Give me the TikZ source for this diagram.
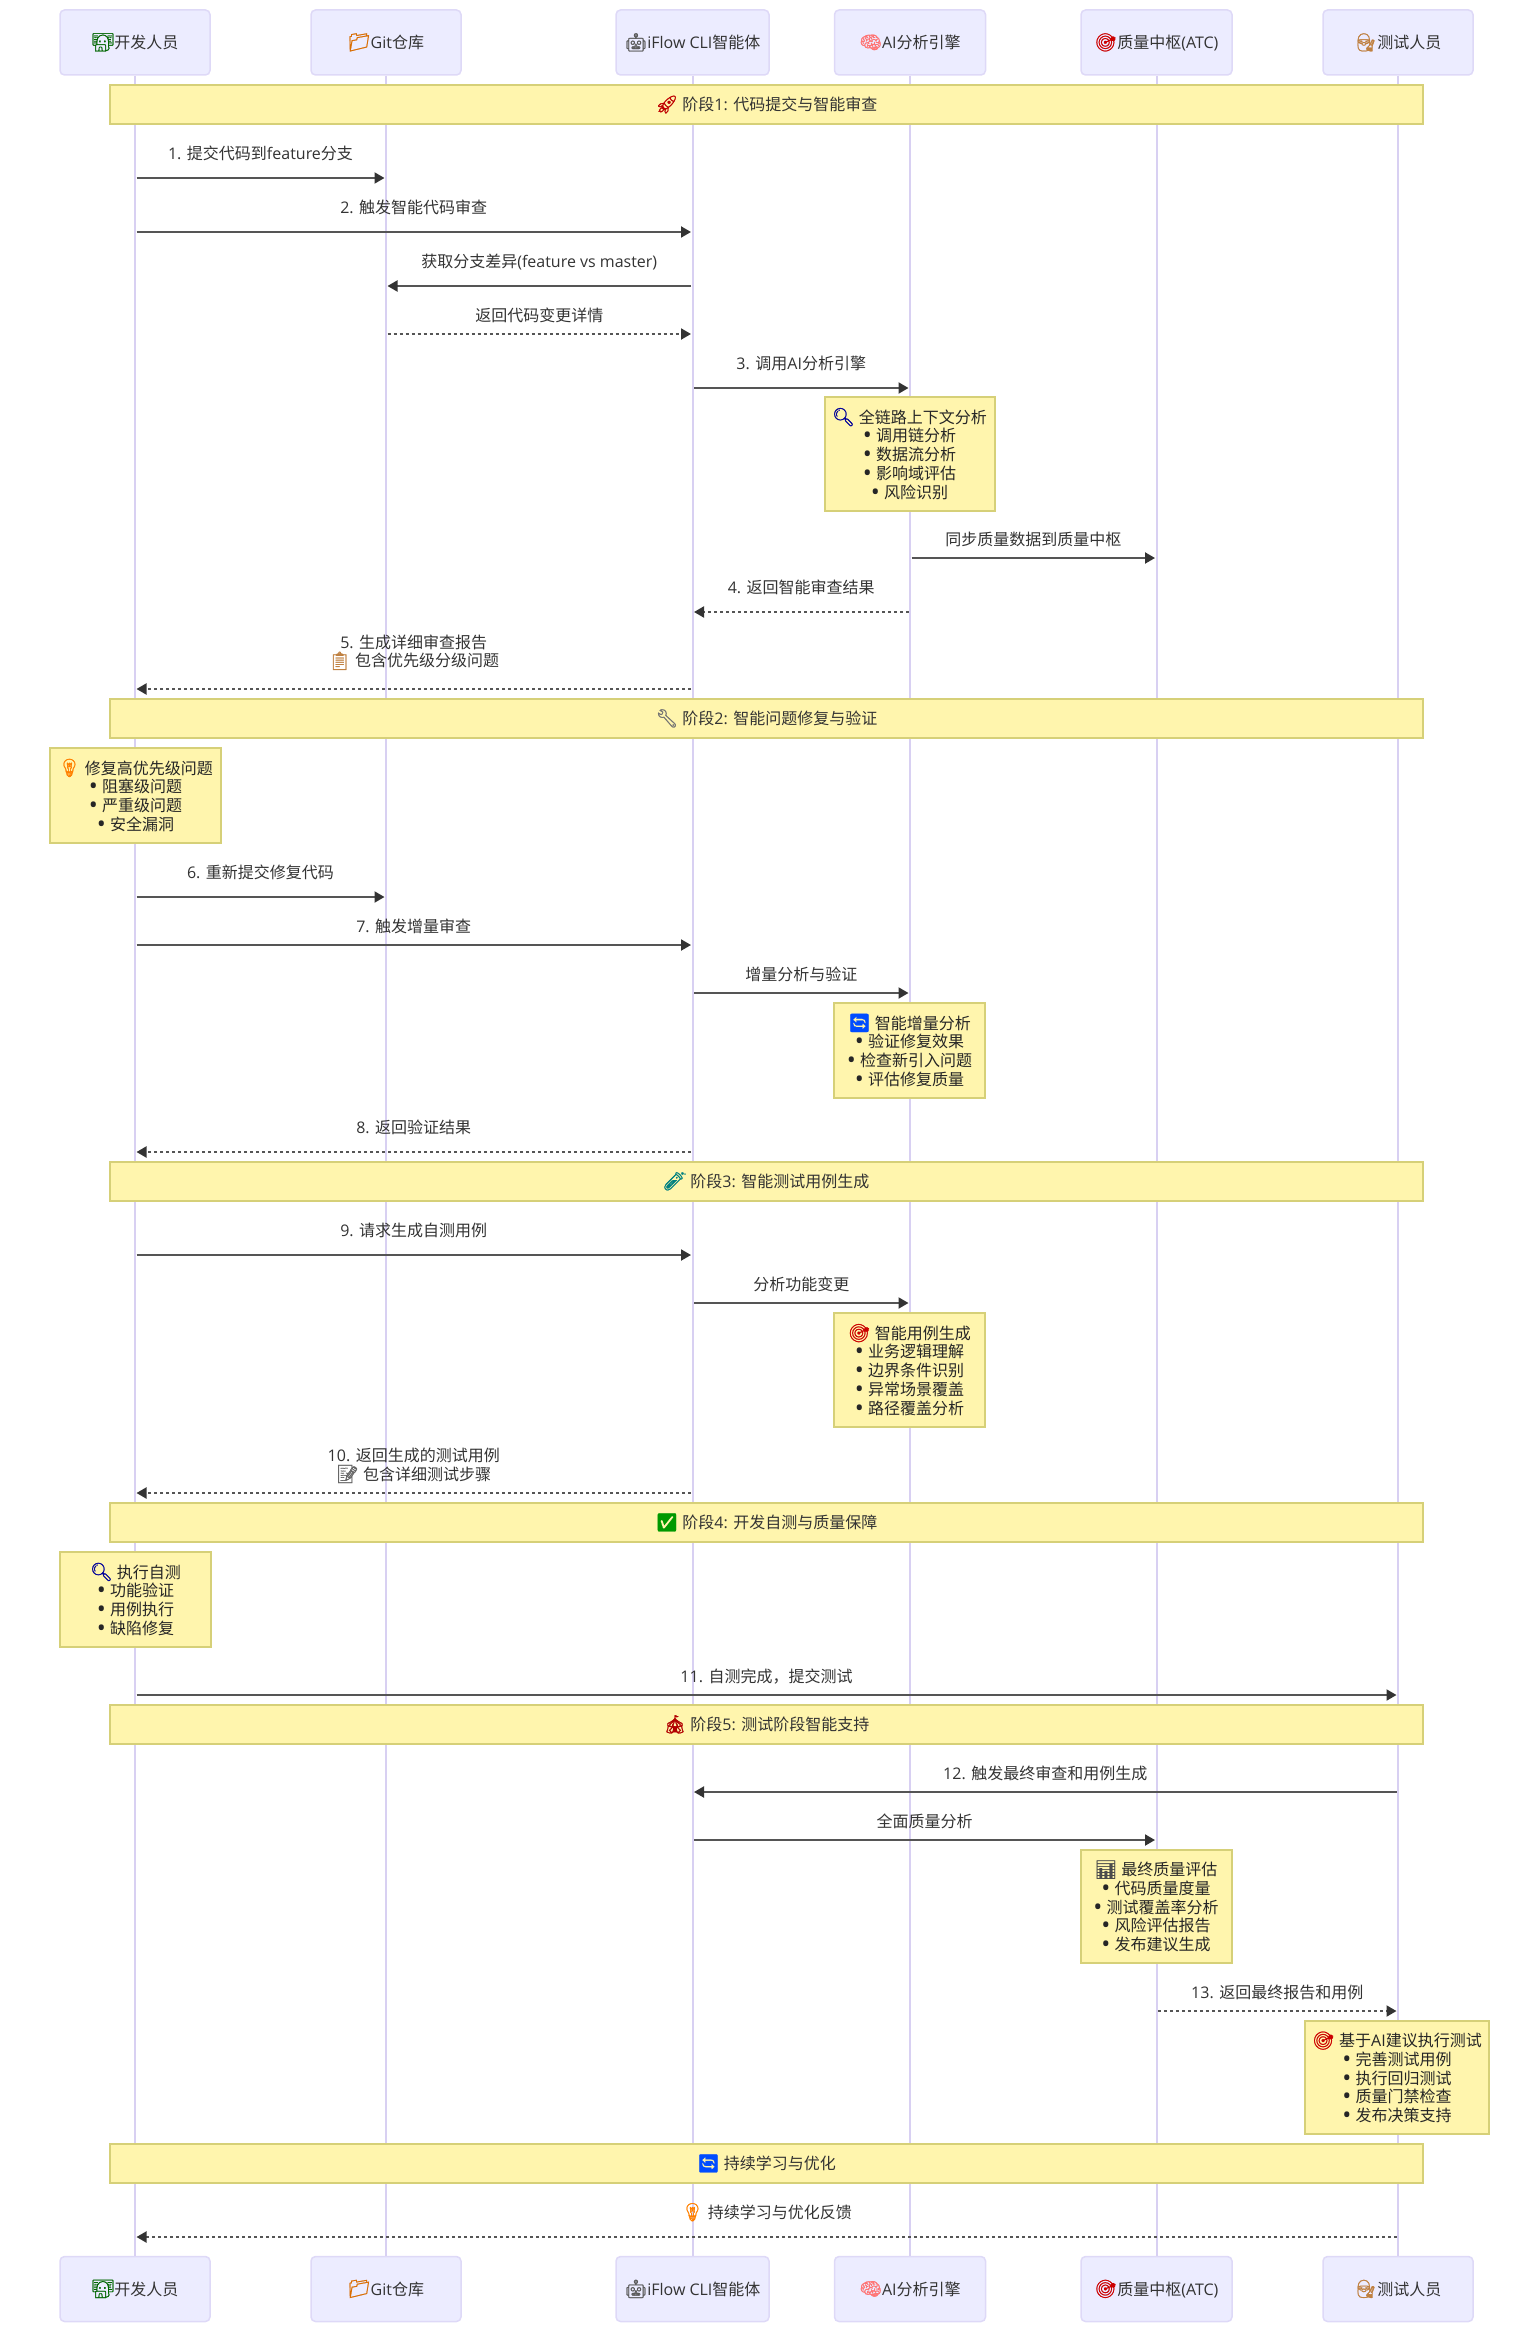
\documentclass[tikz,border=0pt]{standalone}
\usepackage{fontspec}
\usepackage{tikz}
\usetikzlibrary{arrows.meta}

\setmainfont{Open Sans}
\newfontfamily\cjk{Noto Sans CJK SC}
\newfontfamily\emo[Scale=1.12,FakeBold=1.2]{Noto Emoji}
\newfontfamily\lat{Open Sans}
\newfontfamily\dotfont[Scale=1.5]{Open Sans}

% han characters switch to the cjk family by themselves
\newXeTeXintercharclass\hanclass
\count255="4E00
\loop
  \XeTeXcharclass\count255=\hanclass
  \ifnum\count255<"9FFF \advance\count255 by 1 \repeat
\XeTeXcharclass"FF0C=\hanclass
\XeTeXinterchartokenstate=1
\XeTeXinterchartoks 0 \hanclass={\cjk}
\XeTeXinterchartoks 4095 \hanclass={\cjk}
\XeTeXinterchartoks \hanclass 0={\lat}
\XeTeXinterchartoks \hanclass 4095={\lat}

\definecolor{actorfill}{HTML}{ECECFF}
\definecolor{actorline}{HTML}{DED9F7}
\definecolor{lifeline}{HTML}{D8D0F2}
\definecolor{notefill}{HTML}{FFF5AD}
\definecolor{noteline}{HTML}{D6D078}
\definecolor{msgline}{HTML}{555555}
\definecolor{ink}{HTML}{333333}

\newcommand{\emj}[2]{{\color{#1}\emo #2}}
\newcommand{\blt}{\raisebox{-2pt}{\dotfont •}\ }

\begin{document}
\begin{tikzpicture}[
  x=1pt,y=-1pt,
  font=\fontsize{16}{18.7}\selectfont,
  actor/.style={draw=actorline,line width=1.5pt,rounded corners=4.5pt,fill=actorfill,
                minimum width=150pt,minimum height=65pt,inner sep=0pt,text=ink,
                text height=14pt,text depth=2pt},
  life/.style={draw=lifeline,line width=2pt},
  phase/.style={draw=noteline,line width=2pt,fill=notefill,minimum width=1313pt,
                minimum height=39pt,inner sep=0pt,text=ink,
                text height=14pt,text depth=2pt},
  notebox/.style={draw=noteline,line width=2pt,fill=notefill,align=center,
                  minimum width=151pt,minimum height=95pt,inner sep=0pt,text=black!85},
  msg/.style={draw=msgline,line width=2pt,
              -{Triangle[length=10pt,width=11pt,color=ink]},
              shorten >=1.5pt,shorten <=1.5pt},
  reply/.style={msg,dash pattern=on 3pt off 3pt},
  lbltwo/.style={align=center,text=ink,inner sep=0pt,yshift=#1},
  lbl/.style={lbltwo=#1,text height=14pt,text depth=2pt},
  lbl/.default=24.7pt,
]
\useasboundingbox (0,0) rectangle (1539,2333);

% ---- actors, top row and bottom row ----
\node[actor] (dev) at (135,42.5) {\emj{green!40!black}{👨‍💻}开发人员};
\node[actor] (git) at (386,42.5) {\emj{orange!85!black}{📁}Git仓库};
\node[actor,minimum width=153pt] (iflow) at (692.5,42.5) {\emj{black!65}{🤖}iFlow CLI智能体};
\node[actor,minimum width=151pt] (engine) at (910,42.5) {\emj{red!55!white}{🧠}AI分析引擎};
\node[actor,minimum width=151pt] (atc) at (1156.5,42.5) {\emj{red!80!black}{🎯}质量中枢(ATC)};
\node[actor] (tester) at (1398,42.5) {\emj{brown}{👩‍🔬}测试人员};

\node[actor] (devend) at (135,2289) {\emj{green!40!black}{👨‍💻}开发人员};
\node[actor] (gitend) at (386,2289) {\emj{orange!85!black}{📁}Git仓库};
\node[actor,minimum width=153pt] (iflowend) at (692.5,2289) {\emj{black!65}{🤖}iFlow CLI智能体};
\node[actor,minimum width=151pt] (engineend) at (910,2289) {\emj{red!55!white}{🧠}AI分析引擎};
\node[actor,minimum width=151pt] (atcend) at (1156.5,2289) {\emj{red!80!black}{🎯}质量中枢(ATC)};
\node[actor] (testerend) at (1398,2289) {\emj{brown}{👩‍🔬}测试人员};

\draw[life] (dev) -- (devend);
\draw[life] (git) -- (gitend);
\draw[life] (iflow) -- (iflowend);
\draw[life] (engine) -- (engineend);
\draw[life] (atc) -- (atcend);
\draw[life] (tester) -- (testerend);

% ---- phase 1 ----
\node[phase] (phase1) at (766.5,104.5) {\emj{red!75!black}{🚀} 阶段1: 代码提交与智能审查};

\coordinate (m1) at (0,178);
\draw[msg] (dev |- m1) -- node[lbl]{1. 提交代码到feature分支} (git |- m1);
\coordinate (m2) at (0,232);
\draw[msg] (dev |- m2) -- node[lbl]{2. 触发智能代码审查} (iflow |- m2);
\coordinate (m3) at (0,286);
\draw[msg] (iflow |- m3) -- node[lbl]{获取分支差异(feature vs master)} (git |- m3);
\coordinate (m4) at (0,334);
\draw[reply] (git |- m4) -- node[lbl=18.7pt]{返回代码变更详情} (iflow |- m4);
\coordinate (m5) at (0,388);
\draw[msg] (iflow |- m5) -- node[lbl]{3. 调用AI分析引擎} (engine |- m5);

\node[notebox,minimum width=170pt,minimum height=114pt] (chain) at (909.5,454)
     {\emj{blue!60!black}{🔍} 全链路上下文分析\\\blt 调用链分析\\\blt 数据流分析\\\blt 影响域评估\\\blt 风险识别};

\coordinate (m6) at (0,558);
\draw[msg] (engine |- m6) -- node[lbl=18.7pt]{同步质量数据到质量中枢} (atc |- m6);
\coordinate (m7) at (0,612);
\draw[reply] (engine |- m7) -- node[lbl]{4. 返回智能审查结果} (iflow |- m7);
\coordinate (m8) at (0,689);
\draw[reply] (iflow |- m8) -- node[lbltwo=36.7pt]{5. 生成详细审查报告\\\emj{brown}{📋} 包含优先级分级问题} (dev |- m8);

% ---- phase 2 ----
\node[phase] (phase2) at (766.5,718.5) {\emj{black!55}{🔧} 阶段2: 智能问题修复与验证};

\node[notebox,minimum width=171pt] (fixnote) at (135.5,795.5)
     {\emj{orange}{💡} 修复高优先级问题\\\blt 阻塞级问题\\\blt 严重级问题\\\blt 安全漏洞};

\coordinate (m9) at (0,897);
\draw[msg] (dev |- m9) -- node[lbl]{6. 重新提交修复代码} (git |- m9);
\coordinate (m10) at (0,945);
\draw[msg] (dev |- m10) -- node[lbl=18.7pt]{7. 触发增量审查} (iflow |- m10);
\coordinate (m11) at (0,993);
\draw[msg] (iflow |- m11) -- node[lbl=18.7pt]{增量分析与验证} (engine |- m11);

\node[notebox] (delta) at (909.5,1050.5)
     {\emj{blue!70!cyan}{🔄} 智能增量分析\\\blt 验证修复效果\\\blt 检查新引入问题\\\blt 评估修复质量};

\coordinate (m12) at (0,1152);
\draw[reply] (iflow |- m12) -- node[lbl]{8. 返回验证结果} (dev |- m12);

% ---- phase 3 ----
\node[phase] (phase3) at (766.5,1181.5) {\emj{teal}{🧪} 阶段3: 智能测试用例生成};

\coordinate (m13) at (0,1255);
\draw[msg] (dev |- m13) -- node[lbl]{9. 请求生成自测用例} (iflow |- m13);
\coordinate (m14) at (0,1303);
\draw[msg] (iflow |- m14) -- node[lbl=18.7pt]{分析功能变更} (engine |- m14);

\node[notebox,minimum height=114pt] (casegen) at (909.5,1370)
     {\emj{red!80!black}{🎯} 智能用例生成\\\blt 业务逻辑理解\\\blt 边界条件识别\\\blt 异常场景覆盖\\\blt 路径覆盖分析};

\coordinate (m15) at (0,1493);
\draw[reply] (iflow |- m15) -- node[lbltwo=27.5pt]{10. 返回生成的测试用例\\\emj{black!60}{📝} 包含详细测试步骤} (dev |- m15);

% ---- phase 4 ----
\node[phase] (phase4) at (766.5,1522.5) {\emj{green!60!black}{✅} 阶段4: 开发自测与质量保障};

\node[notebox] (selftest) at (135.5,1599.5)
     {\emj{blue!60!black}{🔍} 执行自测\\\blt 功能验证\\\blt 用例执行\\\blt 缺陷修复};

\coordinate (m16) at (0,1695);
\draw[msg] (dev |- m16) -- node[lbl=18.7pt]{11. 自测完成，提交测试} (tester |- m16);

% ---- phase 5 ----
\node[phase] (phase5) at (766.5,1724.5) {\emj{red!70!black}{🎪} 阶段5: 测试阶段智能支持};

\coordinate (m17) at (0,1792);
\draw[msg] (tester |- m17) -- node[lbl=18.7pt]{12. 触发最终审查和用例生成} (iflow |- m17);
\coordinate (m18) at (0,1840);
\draw[msg] (iflow |- m18) -- node[lbl=18.7pt]{全面质量分析} (atc |- m18);

\node[notebox,minimum height=113pt] (finalq) at (1156,1906.5)
     {\emj{black!70}{📊} 最终质量评估\\\blt 代码质量度量\\\blt 测试覆盖率分析\\\blt 风险评估报告\\\blt 发布建议生成};

\coordinate (m19) at (0,2011);
\draw[reply] (atc |- m19) -- node[lbl=18.7pt]{13. 返回最终报告和用例} (tester |- m19);

\node[notebox,minimum width=184pt,minimum height=113pt] (runtest) at (1397,2077.5)
     {\emj{red!80!black}{🎯} 基于AI建议执行测试\\\blt 完善测试用例\\\blt 执行回归测试\\\blt 质量门禁检查\\\blt 发布决策支持};

% ---- learning loop ----
\node[phase] (phase6) at (766.5,2163.5) {\emj{blue!70!cyan}{🔄} 持续学习与优化};

\coordinate (m20) at (0,2237);
\draw[reply] (tester |- m20) -- node[lbl]{\emj{orange}{💡} 持续学习与优化反馈} (dev |- m20);

\end{tikzpicture}
\end{document}
